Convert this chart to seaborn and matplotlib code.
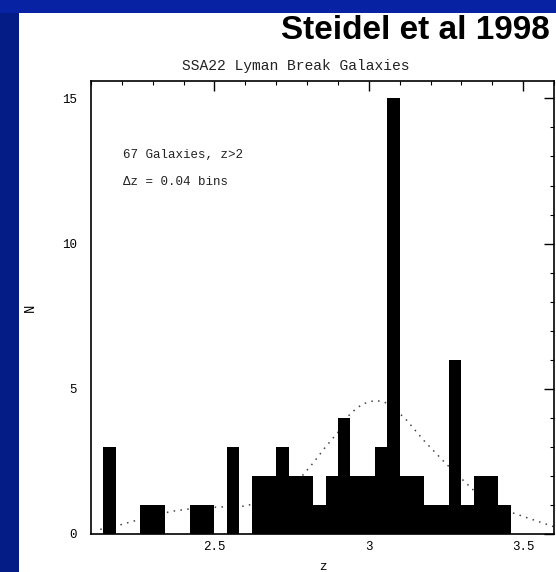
import numpy as np
import pandas as pd
import matplotlib
matplotlib.use("Agg")
import matplotlib.pyplot as plt
from matplotlib.patches import Rectangle
from matplotlib.ticker import MultipleLocator
import seaborn as sns

# ---- data ----
bin_starts = [2.14, 2.18, 2.22, 2.26, 2.30, 2.34, 2.38, 2.42, 2.46, 2.50, 2.54,
              2.58, 2.62, 2.66, 2.70, 2.74, 2.78, 2.82, 2.86, 2.90, 2.94, 2.98,
              3.02, 3.06, 3.10, 3.14, 3.18, 3.22, 3.26, 3.30, 3.34, 3.38, 3.42]
counts = [3, 0, 0, 1, 1, 0, 0, 1, 1, 0, 3,
          0, 2, 2, 3, 2, 2, 1, 2, 4, 2, 2,
          3, 15, 2, 2, 1, 1, 6, 1, 2, 2, 1]
bin_width = 0.04

curve_z = [2.13, 2.20, 2.24, 2.30, 2.36, 2.43, 2.52, 2.60, 2.66, 2.72, 2.78,
           2.82, 2.86, 2.90, 2.94, 2.98, 3.02, 3.05, 3.08, 3.12, 3.18, 3.25,
           3.34, 3.40, 3.46, 3.51, 3.60]
curve_n = [0.16, 0.33, 0.45, 0.62, 0.78, 0.88, 0.93, 0.96, 1.15, 1.5, 1.95,
           2.45, 3.0, 3.5, 4.15, 4.48, 4.6, 4.55, 4.35, 3.95, 3.2, 2.42,
           1.5, 0.95, 0.75, 0.57, 0.25]

x_ticks = [2.5, 3.0, 3.5]
x_ticklabels = ["2.5", "3", "3.5"]
y_ticks = [0, 5, 10, 15]
y_ticklabels = ["0", "5", "10", "15"]

plot_title = "SSA22 Lyman Break Galaxies"
slide_title = "Steidel et al 1998"
note1 = "67 Galaxies, z>2"
note2 = "\u0394z = 0.04 bins"

# ---- figure ----
sns.set_theme(style="white")
plt.rcParams["font.family"] = ["Liberation Mono", "DejaVu Sans Mono"]

W, H = 556, 572
fig = plt.figure(figsize=(W / 100, H / 100), dpi=100)
fig.patch.set_facecolor("#041c86")
fig.patches.append(Rectangle((0, 0), 1, 1, transform=fig.transFigure,
                             facecolor="#041c86", edgecolor="none", zorder=-3))
fig.patches.append(Rectangle((0, 1 - 13 / H), 1, 13 / H, transform=fig.transFigure,
                             facecolor="#0722a2", edgecolor="none", zorder=-2))
fig.patches.append(Rectangle((19 / W, 0), 1 - 19 / W, 1 - 13 / H,
                             transform=fig.transFigure, facecolor="white",
                             edgecolor="none", zorder=-1))

ax = fig.add_axes([91 / W, (H - 534) / H, (554 - 91) / W, (534 - 81) / H])
ax.set_facecolor("white")

df = pd.DataFrame({"z": [b + bin_width / 2 for b in bin_starts], "n": counts})
edges = list(bin_starts) + [bin_starts[-1] + bin_width]
sns.lineplot(x=curve_z, y=curve_n, ax=ax, color="#444444", lw=1.1,
             linestyle=(0, (1, 3.5)), zorder=1)
sns.histplot(data=df, x="z", weights="n", bins=edges, ax=ax, color="black",
             alpha=1, edgecolor="none", linewidth=0, zorder=2)

ax.set_xlim(2.1, 3.6)
ax.set_ylim(0, 15.6)
ax.set_xticks(x_ticks)
ax.set_xticklabels(x_ticklabels)
ax.set_yticks(y_ticks)
ax.set_yticklabels(y_ticklabels)
ax.xaxis.set_minor_locator(MultipleLocator(0.1))
ax.yaxis.set_minor_locator(MultipleLocator(1))
ax.tick_params(which="both", direction="in", top=True, right=True,
               colors="black", labelsize=9)
ax.tick_params(which="major", length=7, width=1)
ax.tick_params(which="minor", length=3, width=0.8)
ax.tick_params(axis="x", pad=5)
ax.tick_params(axis="y", pad=10)
for s in ax.spines.values():
    s.set_visible(True)
    s.set_color("black")
    s.set_linewidth(1.2)

ax.set_xlabel("z", fontsize=9, color="black", labelpad=6)
ax.set_ylabel("N", fontsize=10, color="black", labelpad=18)

fig.text(296 / W, 1 - 66 / H, plot_title, ha="center", va="center",
         fontsize=10.5, color="#222222")
fig.text(123 / W, 1 - 155 / H, note1, ha="left", va="center", fontsize=9,
         color="#222222")
fig.text(123 / W, 1 - 182 / H, note2, ha="left", va="center", fontsize=9,
         color="#222222")

fig.text(550 / W, 1 - 15 / H, slide_title, ha="right", va="top",
         fontsize=24, fontweight="bold", family=["Liberation Sans", "DejaVu Sans"],
         color="black")

fig.savefig("out.png", dpi=100, facecolor=fig.get_facecolor())
